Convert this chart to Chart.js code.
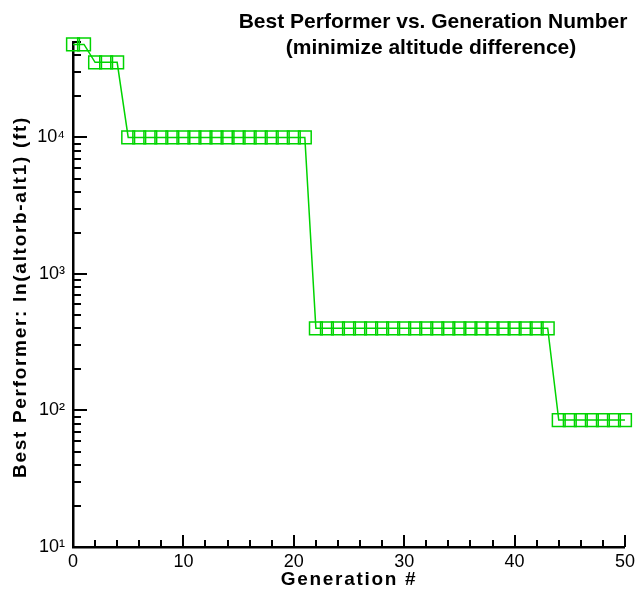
<!DOCTYPE html>
<html>
<head>
<meta charset="utf-8">
<script src="https://cdn.jsdelivr.net/npm/chart.js@4.4.1/dist/chart.umd.min.js"></script>
<style>
  body { margin: 0; background: #fff; }
  canvas { display: block; }
</style>
</head>
<body>
<canvas id="grafico" width="639" height="594"></canvas>
<script>
// generation number
var generaciones = [0, 1, 2, 3, 4, 5, 6, 7, 8, 9, 10, 11, 12, 13, 14, 15, 16, 17, 18, 19, 20,
    21, 22, 23, 24, 25, 26, 27, 28, 29, 30, 31, 32, 33, 34, 35, 36, 37, 38, 39, 40,
    41, 42, 43, 44, 45, 46, 47, 48, 49, 50];
// best performer (ft)
var mejor = [48000, 48000, 35500, 35500, 35500,
    10000, 10000, 10000, 10000, 10000, 10000, 10000, 10000, 10000, 10000, 10000, 10000, 10000, 10000, 10000, 10000, 10000,
    400, 400, 400, 400, 400, 400, 400, 400, 400, 400, 400, 400, 400, 400, 400, 400, 400, 400, 400, 400, 400, 400,
    85, 85, 85, 85, 85, 85, 85];
var yTicks = [10, 100, 1000, 10000];
var yTickLabels = ["10\u00B9", "10\u00B2", "10\u00B3", "10\u2074"];
var xTicks = [0, 10, 20, 30, 40, 50];
var titulo = ["Best Performer vs. Generation Number", "(minimize altitude difference)"];
var tituloX = "Generation #";
var tituloY = "Best Performer: ln(altorb-alt1) (ft)";

var puntos = generaciones.map(function (g, i) { return { x: g, y: mejor[i] }; });
var verde = "#00d400";
var fuente = "'Liberation Sans', Arial, sans-serif";

// ticks pointing into the plot + titles, like the original
var marcasInternas = {
    id: "marcasInternas",
    beforeDatasetsDraw: function (chart) {
        var ctx = chart.ctx;
        var xs = chart.scales.x, ys = chart.scales.y;
        var area = chart.chartArea;
        ctx.save();
        ctx.strokeStyle = "#000";
        ctx.lineWidth = 2;
        ctx.beginPath();
        for (var d = 10; d <= 10000; d *= 10) {
            for (var k = 1; k <= 9; k++) {
                var v = d * k;
                if (v > ys.max) break;
                var py = Math.round(ys.getPixelForValue(v));
                var len = k === 1 ? 14 : 8;
                ctx.moveTo(area.left, py);
                ctx.lineTo(area.left + len, py);
            }
        }
        for (var g = 0; g <= 50; g += 2) {
            var px = Math.round(xs.getPixelForValue(g));
            var l = g % 10 === 0 ? 12 : 7;
            ctx.moveTo(px, area.bottom);
            ctx.lineTo(px, area.bottom - l);
        }
        ctx.stroke();
        ctx.restore();
    },
    afterDraw: function (chart) {
        var ctx = chart.ctx;
        var area = chart.chartArea;
        ctx.save();
        ctx.fillStyle = "#000";
        ctx.textAlign = "center";
        ctx.textBaseline = "middle";
        ctx.font = "bold 21px " + fuente;
        ctx.fillText(titulo[0], 433, 22);
        ctx.fillText(titulo[1], 431, 48);

        ctx.font = "bold 19px " + fuente;
        ctx.letterSpacing = "1.7px";
        ctx.fillText(tituloX, (area.left + area.right) / 2, 580);
        ctx.translate(21, 297);
        ctx.rotate(-Math.PI / 2);
        ctx.fillText(tituloY, 0, 0);
        ctx.restore();
    }
};

document.addEventListener("DOMContentLoaded", function () {
    var ctx = document.getElementById("grafico").getContext("2d");
    var myChart = new Chart(ctx, {
        type: "line",
        data: {
            datasets: [{
                data: puntos,
                borderColor: verde,
                borderWidth: 1.5,
                backgroundColor: "rgba(0,0,0,0)",
                pointStyle: "rect",
                pointRadius: 9,
                pointBorderColor: verde,
                pointBorderWidth: 1.5,
                pointBackgroundColor: "rgba(0,0,0,0)",
                tension: 0,
                clip: false
            }]
        },
        plugins: [marcasInternas],
        options: {
            responsive: false,
            animation: false,
            devicePixelRatio: 1,
            layout: { padding: { top: 42, right: 12, left: 0, bottom: 0 } },
            plugins: {
                legend: { display: false },
                tooltip: { enabled: false }
            },
            scales: {
                x: {
                    type: "linear",
                    min: 0,
                    max: 50,
                    afterBuildTicks: function (scale) {
                        scale.ticks = xTicks.map(function (v) { return { value: v }; });
                    },
                    afterFit: function (scale) { scale.height = 47; },
                    grid: { display: false, drawTicks: false },
                    border: { display: true, color: "#000", width: 2.5 },
                    ticks: {
                        color: "#000",
                        padding: 4,
                        maxRotation: 0,
                        font: { family: fuente, size: 18 }
                    }
                },
                y: {
                    type: "logarithmic",
                    min: 10,
                    max: 50000,
                    afterBuildTicks: function (scale) {
                        scale.ticks = yTicks.map(function (v) { return { value: v }; });
                    },
                    afterFit: function (scale) { scale.width = 73; },
                    grid: { display: false, drawTicks: false },
                    border: { display: true, color: "#000", width: 2.5 },
                    ticks: {
                        color: "#000",
                        padding: 8,
                        font: { family: fuente, size: 18 },
                        callback: function (value, index) { return yTickLabels[index]; }
                    }
                }
            }
        }
    });
});
</script>
</body>
</html>
